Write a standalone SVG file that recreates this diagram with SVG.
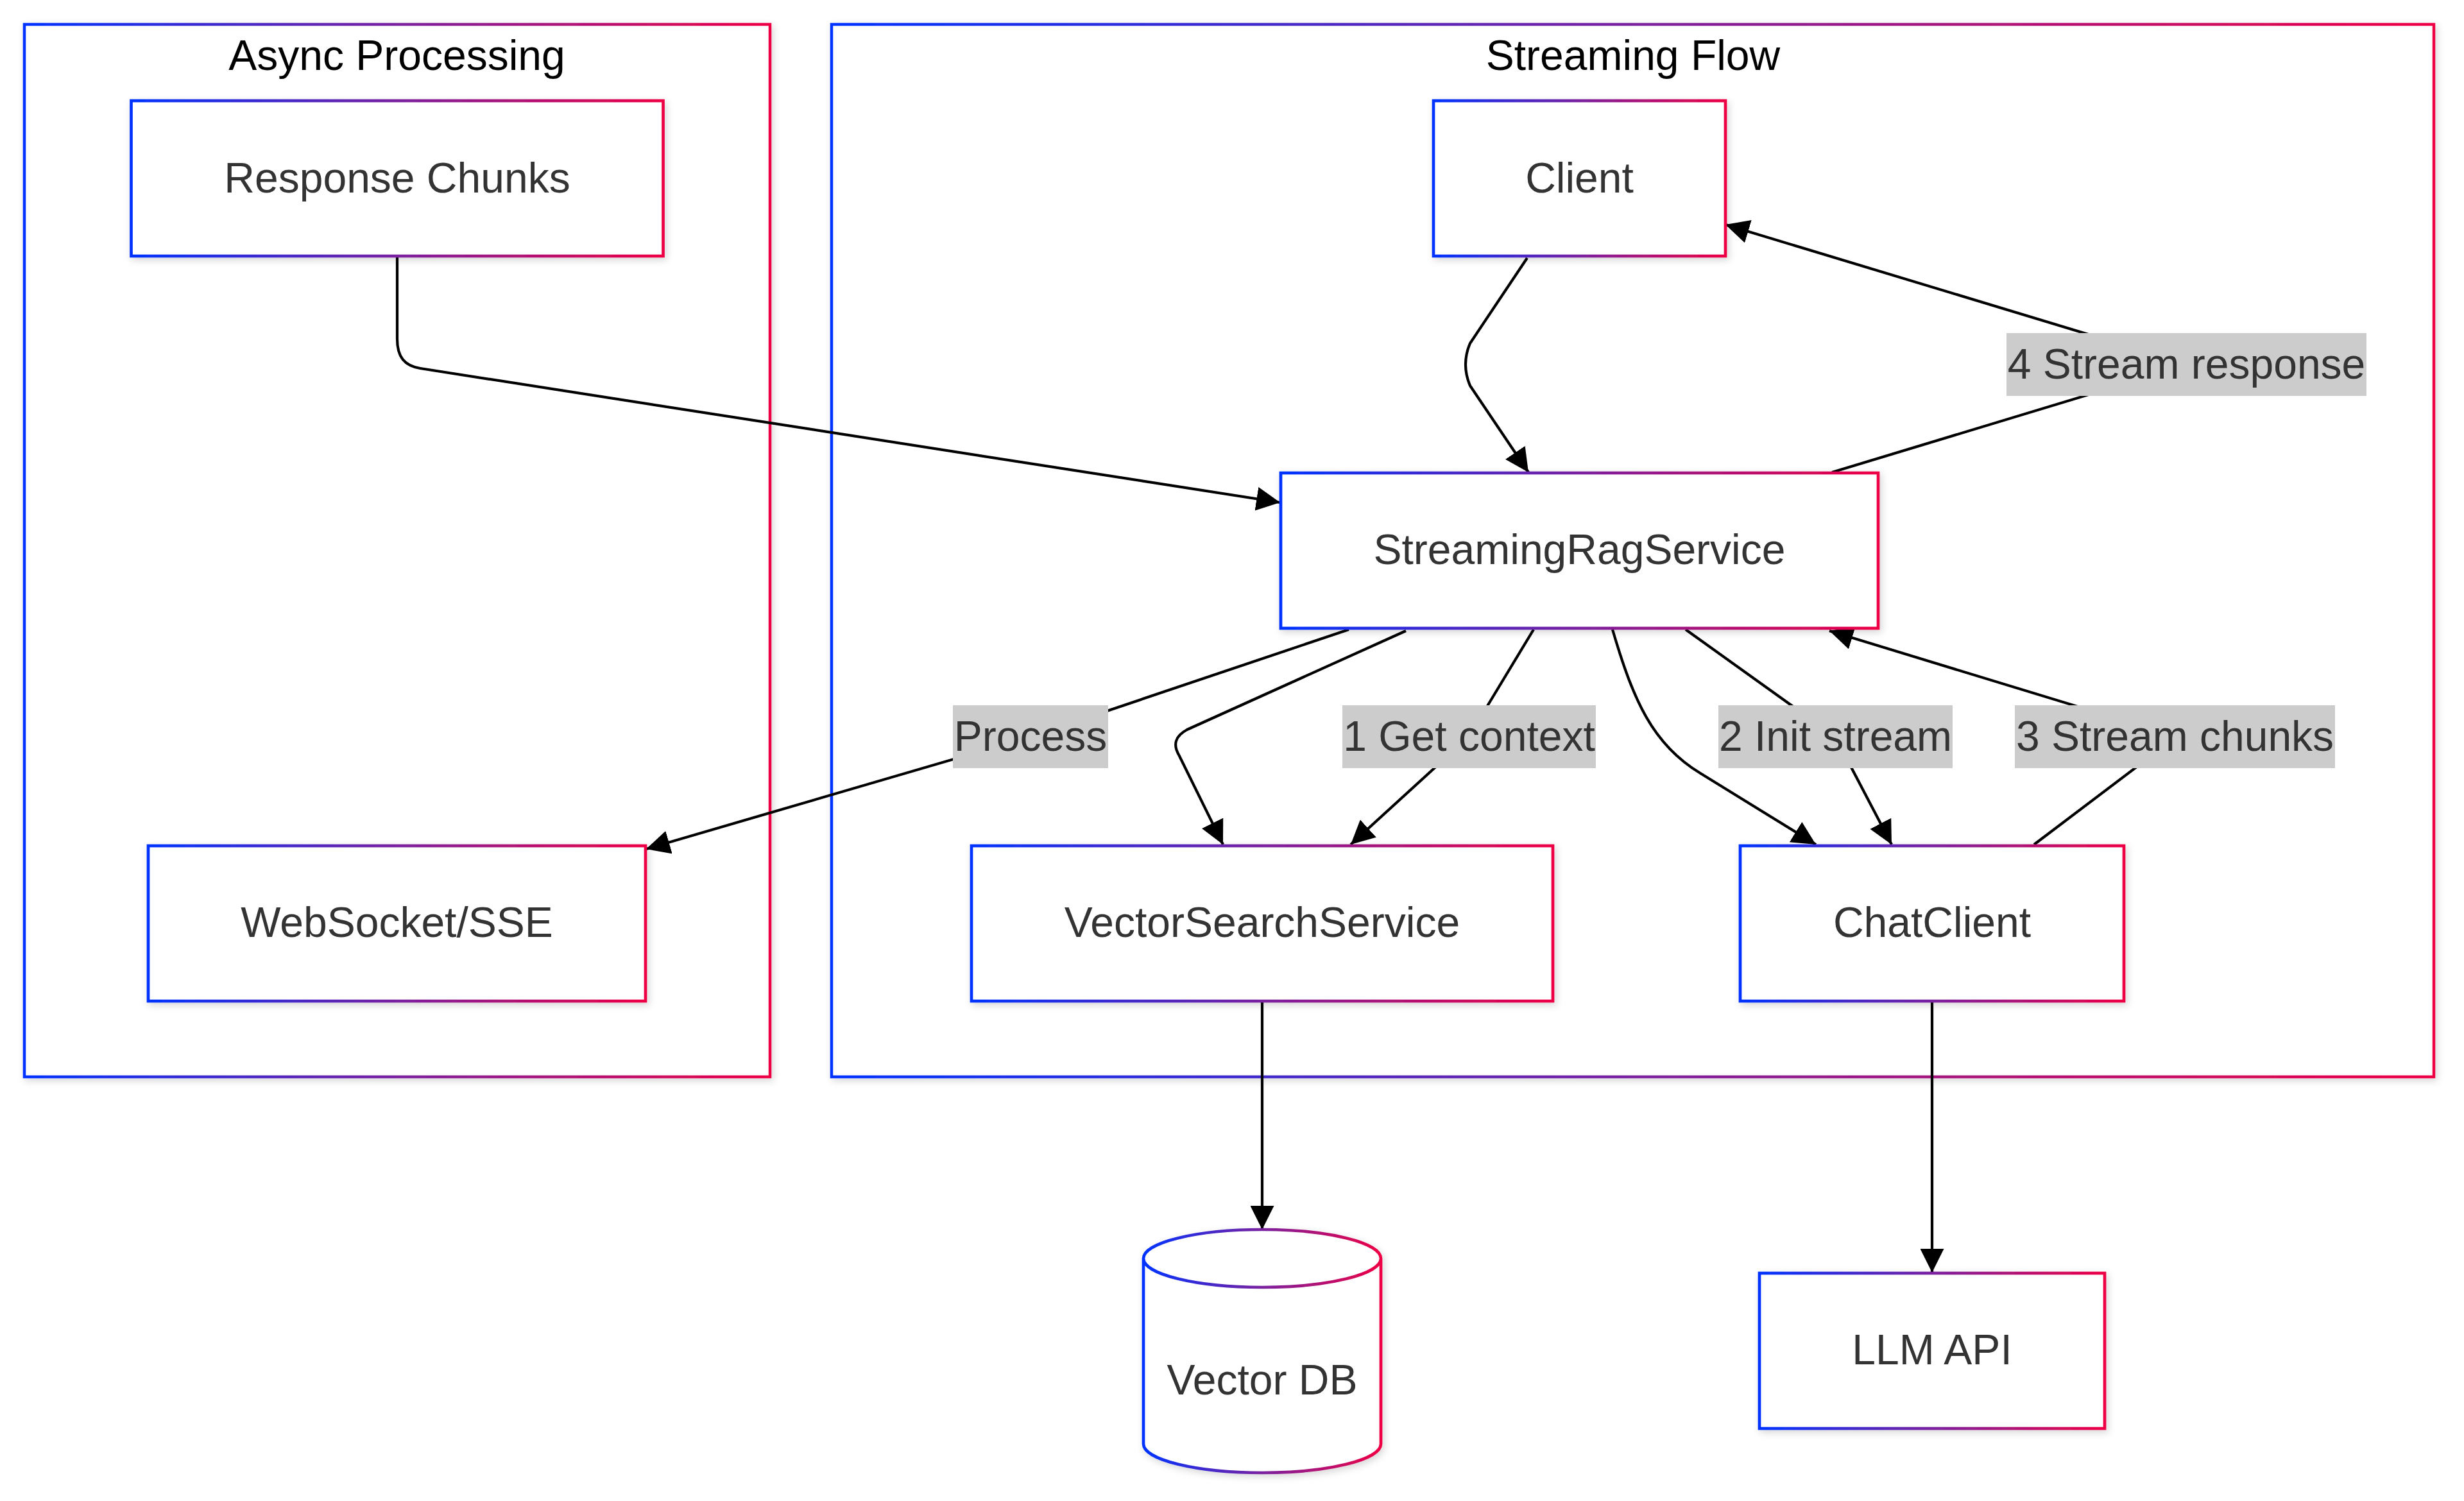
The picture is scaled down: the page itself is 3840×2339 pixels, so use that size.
<svg xmlns="http://www.w3.org/2000/svg" width="3840" height="2339" viewBox="0 0 3840 2339">
<defs>
  <linearGradient id="grad" x1="0" y1="0" x2="1" y2="0">
    <stop offset="0" stop-color="#0033ff"/>
    <stop offset="0.5" stop-color="#7a22a0"/>
    <stop offset="1" stop-color="#ee0045"/>
  </linearGradient>
  <filter id="shadow" x="-10%" y="-10%" width="120%" height="130%">
    <feDropShadow dx="3" dy="4" stdDeviation="6" flood-color="#000" flood-opacity="0.16"/>
  </filter>
  <marker id="arrow" viewBox="0 0 10 10" refX="10" refY="5" markerWidth="37" markerHeight="37" markerUnits="userSpaceOnUse" orient="auto">
    <path d="M0,0 L10,5 L0,10 z" fill="#000"/>
  </marker>
  <style>
    .cluster rect { fill: #ffffff; stroke: url(#grad); stroke-width: 4.5; filter: url(#shadow); }
    .ctitle { font-family: "Liberation Sans", Arial, sans-serif; font-size: 66px; fill: #000; text-anchor: middle; }
    .node rect, .node path { fill: #ffffff; stroke: url(#grad); stroke-width: 4.7; filter: url(#shadow); }
    .nlabel { font-family: "Liberation Sans", Arial, sans-serif; font-size: 66px; fill: #333; text-anchor: middle; }
    .edge { fill: none; stroke: #000; stroke-width: 4.2; marker-end: url(#arrow); }
    .lbg { fill: #cccccc; }
    .elabel { font-family: "Liberation Sans", Arial, sans-serif; font-size: 66px; fill: #333; text-anchor: middle; }
  </style>
</defs>
<rect width="3840" height="2339" fill="#ffffff"/>

<g id="clusters">
  <g id="cluster-async" class="cluster">
    <rect x="38" y="38" width="1162" height="1640"/>
    <text class="ctitle" x="618.5" y="109">Async Processing</text>
  </g>
  <g id="cluster-streaming" class="cluster">
    <rect x="1296" y="38" width="2497" height="1640"/>
    <text class="ctitle" x="2545" y="109">Streaming Flow</text>
  </g>
</g>

<g id="connectors">
  <path class="edge" d="M619,401 L619,528 C619,556 630,570 655,574 L1995,783"/>
  <path class="edge" d="M2380,402 L2291,535 Q2277,568 2291,601 L2382,736"/>
  <path class="edge" d="M2102,981 L1606,1148 L1007,1323"/>
  <path class="edge" d="M2191,983 L1850,1137 Q1822,1152 1838,1178 L1906,1316"/>
  <path class="edge" d="M2390,981 L2289,1148 L2105,1316"/>
  <path class="edge" d="M2513,981 C2545,1090 2575,1160 2650,1205 L2830,1316"/>
  <path class="edge" d="M2627,981 L2860,1148 L2948,1316"/>
  <path class="edge" d="M3170,1316 L3392,1148 L2851,983"/>
  <path class="edge" d="M2855,736 L3410,568 L2689,350"/>
  <path class="edge" d="M1967,1562 L1967,1916"/>
  <path class="edge" d="M3011,1562 L3011,1983"/>
</g>

<g id="edge-labels">
  <g id="label-process">
    <rect class="lbg" x="1485" y="1099" width="242" height="98"/>
    <text class="elabel" x="1606" y="1170">Process</text>
  </g>
  <g id="label-get-context">
    <rect class="lbg" x="2092" y="1099" width="395" height="98"/>
    <text class="elabel" x="2289.5" y="1170">1 Get context</text>
  </g>
  <g id="label-init-stream">
    <rect class="lbg" x="2678" y="1099" width="365" height="98"/>
    <text class="elabel" x="2860.5" y="1170">2 Init stream</text>
  </g>
  <g id="label-stream-chunks">
    <rect class="lbg" x="3140" y="1099" width="499" height="98"/>
    <text class="elabel" x="3389.5" y="1170">3 Stream chunks</text>
  </g>
  <g id="label-stream-response">
    <rect class="lbg" x="3127" y="519" width="561" height="98"/>
    <text class="elabel" x="3407.5" y="590">4 Stream response</text>
  </g>
</g>

<g id="node-response-chunks" class="node">
  <rect x="204.5" y="157" width="829" height="242"/>
  <text class="nlabel" x="619" y="300">Response Chunks</text>
</g>
<g id="node-client" class="node">
  <rect x="2234" y="157" width="455" height="242"/>
  <text class="nlabel" x="2461.5" y="300">Client</text>
</g>
<g id="node-streamingragservice" class="node">
  <rect x="1996" y="737" width="931" height="242"/>
  <text class="nlabel" x="2461.5" y="879">StreamingRagService</text>
</g>
<g id="node-websocket" class="node">
  <rect x="231" y="1318" width="775" height="242"/>
  <text class="nlabel" x="618.5" y="1460">WebSocket/SSE</text>
</g>
<g id="node-vectorsearchservice" class="node">
  <rect x="1514" y="1318" width="906" height="242"/>
  <text class="nlabel" x="1967" y="1460">VectorSearchService</text>
</g>
<g id="node-chatclient" class="node">
  <rect x="2712" y="1318" width="598" height="242"/>
  <text class="nlabel" x="3011" y="1460">ChatClient</text>
</g>
<g id="node-vectordb" class="node">
  <path d="M1782,1961 a185,45 0 0,0 370,0 a185,45 0 0,0 -370,0 l0,289 a185,45 0 0,0 370,0 l0,-289"/>
  <text class="nlabel" x="1967" y="2173">Vector DB</text>
</g>
<g id="node-llm-api" class="node">
  <rect x="2742" y="1984" width="538" height="242"/>
  <text class="nlabel" x="3011" y="2126">LLM API</text>
</g>
</svg>
